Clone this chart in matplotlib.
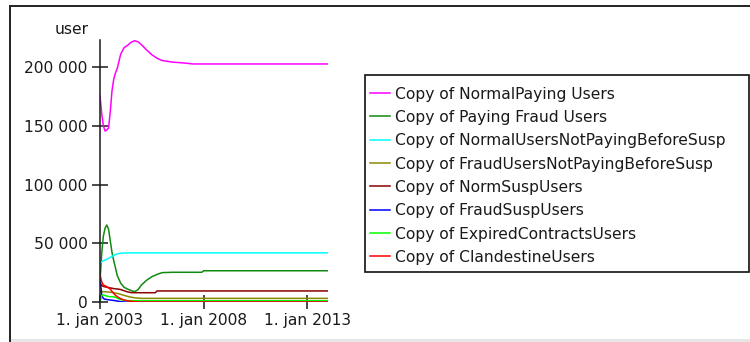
import numpy as np
import matplotlib
matplotlib.use("Agg")
import matplotlib.pyplot as plt
from matplotlib.ticker import FuncFormatter
from matplotlib.lines import Line2D
from matplotlib.patches import Rectangle

# Simulation output, months after 1 Jan 2003
months = [0, 1, 2, 3, 4, 5, 6, 7, 8, 9, 10, 12, 14, 16, 18, 20, 22, 24,
          27, 30, 32, 33, 36, 42, 48, 54, 59, 60, 72, 96, 132]

normal_paying = [175300, 160000, 150000, 145500, 146500, 148000, 162000, 180000,
                 190000, 195000, 199000, 211000, 216500, 218500, 221000, 222400,
                 221500, 219000, 214500, 210500, 208500, 207500, 205500, 204200,
                 203500, 202600, 202600, 202600, 202600, 202600, 202600]
paying_fraud = [18000, 42000, 56000, 63000, 65500, 62000, 52000, 42000,
                35000, 29000, 22500, 16000, 12500, 11000, 9800, 8800,
                10500, 14500, 18500, 21500, 22800, 23500, 25000, 25300,
                25300, 25300, 25300, 26600, 26600, 26600, 26600]
normal_not_paying = [32900, 34300, 35200, 35700, 36300, 37100, 38000, 38800,
                     39600, 40300, 41000, 41500, 41700, 41800, 41800, 41800,
                     41800, 41800, 41800, 41800, 41800, 41800, 41800, 41800,
                     41800, 41800, 41800, 41800, 41800, 41800, 41800]
fraud_not_paying = [9000, 8900, 8800, 8700, 8600, 8500, 8300, 8100,
                    7900, 7600, 7300, 6500, 5600, 4800, 4100, 3600,
                    3300, 3100, 3100, 3100, 3100, 3100, 3100, 3100,
                    3100, 3100, 3100, 3100, 3100, 3100, 3100]
norm_susp = [16000, 14000, 13300, 12900, 12600, 12300, 12000, 11700,
             11400, 11200, 11100, 10600, 9600, 8600, 8000, 7900,
             7900, 7900, 7900, 7900, 7900, 9400, 9400, 9400,
             9400, 9400, 9400, 9400, 9400, 9400, 9400]
fraud_susp = [20000, 6000, 3000, 2400, 2100, 1900, 1700, 1500,
              1300, 1100, 800, 300, 0, 0, 0, 0,
              0, 0, 0, 0, 0, 0, 0, 0,
              0, 0, 0, 0, 0, 0, 0]
expired_contracts = [0, 5500, 6000, 5500, 5000, 4700, 4500, 4500,
                     4400, 4000, 3200, 2000, 1500, 1200, 1100, 1100,
                     1100, 1100, 1100, 1100, 1100, 1100, 1100, 1100,
                     1100, 1100, 1100, 1100, 1100, 1100, 1100]
clandestine = [23000, 17000, 14500, 13800, 13000, 12000, 11000, 9000,
               7200, 5700, 4500, 2800, 1700, 1000, 600, 300,
               100, 0, 0, 0, 0, 0, 0, 0,
               0, 0, 0, 0, 0, 0, 0]

series_names = ["Copy of NormalPaying Users", "Copy of Paying Fraud Users",
                "Copy of NormalUsersNotPayingBeforeSusp",
                "Copy of FraudUsersNotPayingBeforeSusp", "Copy of NormSuspUsers",
                "Copy of FraudSuspUsers", "Copy of ExpiredContractsUsers",
                "Copy of ClandestineUsers"]
series_colors = ["#ff00ff", "#108a10", "#00ffff", "#8a8a00", "#8b0000",
                 "#0000ff", "#00ff00", "#ff0000"]

tick_years = [2003, 2008, 2013]
tick_labels = ["1. jan 2003", "1. jan 2008", "1. jan 2013"]
y_ticks = [0, 50000, 100000, 150000, 200000]

start = np.datetime64("2003-01", "M")
dates = (start + np.array(months)).astype("datetime64[D]")

W, H = 750, 342
fig = plt.figure(figsize=(W / 100, H / 100), dpi=100)
fig.patch.set_facecolor("white")

def fx(px):
    return px / W

def fy(py):
    return 1 - py / H

ax = fig.add_axes([fx(100), fy(302), fx(328) - fx(100), fy(40) - fy(302)])
ax.set_facecolor("none")

all_series = [normal_paying, paying_fraud, normal_not_paying, fraud_not_paying,
              norm_susp, fraud_susp, expired_contracts, clandestine]
for vals, name, col in zip(all_series, series_names, series_colors):
    ax.plot(dates, vals, color=col, lw=1.1, label=name, solid_joinstyle="round")

ax.set_xlim(np.datetime64("2003-01-01"), np.datetime64("2014-01-01"))
ax.set_ylim(0, 223000)

text_col = "#1a1a1a"
fs = 11.2
ax.set_xticks([np.datetime64(f"{y}-01-01") for y in tick_years])
ax.set_xticklabels(tick_labels)
ax.set_yticks(y_ticks)
ax.yaxis.set_major_formatter(FuncFormatter(lambda v, p: f"{v:,.0f}".replace(",", " ")))
ax.tick_params(axis="y", direction="inout", length=11.5, width=1.1, pad=3,
               labelsize=fs, colors=text_col)
ax.tick_params(axis="x", direction="inout", length=9.4, width=1.1, pad=3,
               labelsize=fs, colors=text_col)
for s in ["top", "right", "bottom"]:
    ax.spines[s].set_visible(False)
ax.spines["left"].set_linewidth(1.1)
ax.spines["left"].set_color(text_col)

fig.text(fx(71.5), fy(29), "user", ha="center", va="center", fontsize=fs, color=text_col)

# outer frame
fig.add_artist(Line2D([fx(10), fx(10)], [fy(6), fy(342)], color="#222222", lw=1.4))
fig.add_artist(Line2D([fx(10), fx(750)], [fy(6), fy(6)], color="#222222", lw=1.4))
fig.add_artist(Rectangle((fx(11), 0), 1 - fx(11), 3 / H, facecolor="#e6e6e6",
                         edgecolor="none"))

# legend box
fig.add_artist(Rectangle((fx(365), fy(272)), fx(749) - fx(365), fy(75) - fy(272),
                         facecolor="white", edgecolor="#111111", lw=1.2, zorder=3))
fs_px = fs * 100 / 72
leg = fig.legend(loc="upper left", bbox_to_anchor=(fx(370), fy(86.6)),
                 bbox_transform=fig.transFigure, frameon=False, fontsize=fs,
                 borderpad=0, borderaxespad=0, handlelength=20 / fs_px,
                 handletextpad=5 / fs_px, labelspacing=0.535,
                 labelcolor=text_col)
leg.set_zorder(4)

fig.savefig("out.png", dpi=100)
